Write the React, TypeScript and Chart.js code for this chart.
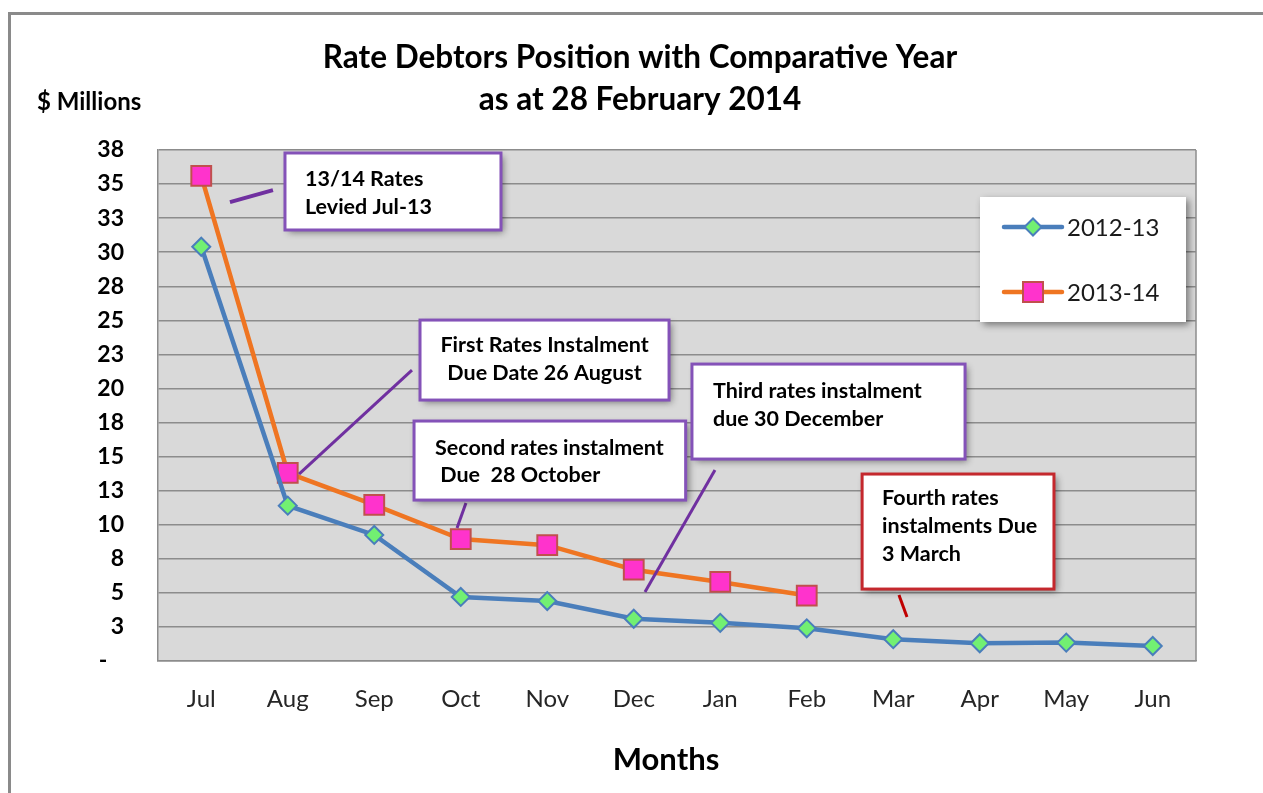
import React, { useEffect, useRef } from "react";
import { Chart, registerables } from "chart.js";

Chart.register(...registerables);

// ---------- data ----------
const months = ["Jul", "Aug", "Sep", "Oct", "Nov", "Dec", "Jan", "Feb", "Mar", "Apr", "May", "Jun"];
const values2012 = [30.4, 11.4, 9.25, 4.7, 4.4, 3.1, 2.8, 2.4, 1.6, 1.3, 1.35, 1.1];
const values2013 = [35.6, 13.8, 11.45, 8.95, 8.5, 6.7, 5.8, 4.8, null, null, null, null];
const seriesNames = ["2012-13", "2013-14"];
const yMin = 0;
const yMax = 37.5;
const yStep = 2.5;
const titleLines = ["Rate Debtors Position with Comparative Year", "as at 28 February 2014"];
const yUnitLabel = "$ Millions";
const xAxisLabel = "Months";

// callout notes (box corners / leader ends in data units: x = month index, y = $M)
const notes = [
  {
    lines: ["13/14 Rates", "Levied Jul-13"],
    box: [0.968, 37.28, 3.465, 31.63],
    leader: [0.332, 33.68, 0.829, 34.56],
  },
  {
    lines: ["First Rates Instalment", "Due Date 26 August"],
    box: [2.529, 25.02, 5.408, 19.15],
    leader: [1.13, 13.72, 2.436, 21.35],
  },
  {
    lines: ["Second rates instalment", " Due  28 October"],
    box: [2.46, 17.61, 5.6, 11.81],
    leader: [3.06, 11.59, 2.957, 9.76],
  },
  {
    lines: ["Third rates instalment", "due 30 December"],
    box: [5.673, 21.79, 8.83, 14.82],
    leader: [5.939, 14.02, 5.13, 5.06],
  },
  {
    lines: ["Fourth rates", "instalments Due", "3 March"],
    box: [7.64, 13.72, 9.858, 5.28],
    leader: [8.066, 4.84, 8.159, 3.23],
  },
];
const noteStyles = [
  { border: "#8452b8", leader: "#7030a0", leaderW: 4, align: "left", dx: 20, dy: 26, lh: 28 },
  { border: "#8452b8", leader: "#7030a0", leaderW: 3, align: "center", dx: 0, dy: 25, lh: 28 },
  { border: "#8452b8", leader: "#7030a0", leaderW: 3, align: "left", dx: 21, dy: 27, lh: 27 },
  { border: "#8452b8", leader: "#7030a0", leaderW: 3, align: "left", dx: 21, dy: 27, lh: 28 },
  { border: "#c4282d", leader: "#c00000", leaderW: 3, align: "left", dx: 20, dy: 24, lh: 28 },
];

const FONT = "Lato, 'Open Sans', 'DejaVu Sans', sans-serif";
const BLUE = "#4a7ebb";
const ORANGE = "#ef7522";
const GREEN = "#72f072";
const PINK = "#ff33cc";
const SQBORDER = "#c0504d";

function drawDiamond(ctx: CanvasRenderingContext2D, x: number, y: number, r: number) {
  ctx.beginPath();
  ctx.moveTo(x - r, y);
  ctx.lineTo(x, y - r);
  ctx.lineTo(x + r, y);
  ctx.lineTo(x, y + r);
  ctx.closePath();
  ctx.fillStyle = GREEN;
  ctx.fill();
  ctx.lineWidth = 2;
  ctx.strokeStyle = BLUE;
  ctx.stroke();
}
function drawSquare(ctx: CanvasRenderingContext2D, x: number, y: number, s: number) {
  ctx.beginPath();
  ctx.rect(x - s, y - s, 2 * s, 2 * s);
  ctx.fillStyle = PINK;
  ctx.fill();
  ctx.lineWidth = 2;
  ctx.strokeStyle = SQBORDER;
  ctx.stroke();
}

const decorPlugin = {
  id: "decor",
  beforeDraw(chart: any) {
    const ctx = chart.ctx as CanvasRenderingContext2D;
    const { left, top, right, bottom } = chart.chartArea;
    ctx.save();
    ctx.fillStyle = "#ffffff";
    ctx.fillRect(0, 0, chart.width, chart.height);
    // outer frame
    ctx.strokeStyle = "#8a8a8a";
    ctx.lineWidth = 3;
    ctx.strokeRect(9.5, 13.5, chart.width + 20, chart.height + 20);
    // plot background
    ctx.fillStyle = "#d9d9d9";
    ctx.fillRect(left, top, right - left, bottom - top);
    ctx.restore();
  },
  afterDraw(chart: any) {
    const ctx = chart.ctx as CanvasRenderingContext2D;
    const xs = chart.scales.x;
    const ys = chart.scales.y;
    const { left, top, right, bottom } = chart.chartArea;
    ctx.save();
    // plot right border
    ctx.strokeStyle = "#8c8c8c";
    ctx.lineWidth = 1.5;
    ctx.beginPath();
    ctx.moveTo(right, top);
    ctx.lineTo(right, bottom);
    ctx.stroke();

    // titles
    ctx.fillStyle = "#000";
    ctx.textAlign = "center";
    ctx.textBaseline = "middle";
    ctx.font = `bold 31.5px ${FONT}`;
    ctx.fillText(titleLines[0], 640, 58);
    ctx.fillText(titleLines[1], 640, 100);
    ctx.textAlign = "left";
    ctx.font = `bold 24px ${FONT}`;
    ctx.fillText(yUnitLabel, 37, 102);
    ctx.textAlign = "center";
    ctx.font = `bold 31px ${FONT}`;
    ctx.fillText(xAxisLabel, 666, 760);

    // callouts
    notes.forEach((n, i) => {
      const st = noteStyles[i];
      const x1 = xs.getPixelForValue(n.box[0]);
      const y1 = ys.getPixelForValue(n.box[1]);
      const x2 = xs.getPixelForValue(n.box[2]);
      const y2 = ys.getPixelForValue(n.box[3]);
      // leader
      ctx.strokeStyle = st.leader;
      ctx.lineWidth = st.leaderW;
      ctx.lineCap = "butt";
      ctx.beginPath();
      ctx.moveTo(xs.getPixelForValue(n.leader[0]), ys.getPixelForValue(n.leader[1]));
      ctx.lineTo(xs.getPixelForValue(n.leader[2]), ys.getPixelForValue(n.leader[3]));
      ctx.stroke();
      // box with shadow
      ctx.save();
      ctx.shadowColor = "rgba(0,0,0,0.45)";
      ctx.shadowBlur = 7;
      ctx.shadowOffsetX = 3;
      ctx.shadowOffsetY = 3;
      ctx.fillStyle = "#ffffff";
      ctx.fillRect(x1, y1, x2 - x1, y2 - y1);
      ctx.restore();
      ctx.strokeStyle = st.border;
      ctx.lineWidth = 3;
      ctx.strokeRect(x1, y1, x2 - x1, y2 - y1);
      // text
      ctx.fillStyle = "#000";
      ctx.font = `bold 21.5px ${FONT}`;
      ctx.textBaseline = "middle";
      ctx.textAlign = st.align as CanvasTextAlign;
      const tx = st.align === "center" ? (x1 + x2) / 2 : x1 + st.dx;
      n.lines.forEach((t, k) => ctx.fillText(t, tx, y1 + st.dy + k * st.lh));
    });

    // legend
    const lx1 = right - 216;
    const ly1 = top + 47;
    const lx2 = right - 10;
    const ly2 = top + 172;
    ctx.save();
    ctx.shadowColor = "rgba(0,0,0,0.45)";
    ctx.shadowBlur = 7;
    ctx.shadowOffsetX = 3;
    ctx.shadowOffsetY = 3;
    ctx.fillStyle = "#ffffff";
    ctx.fillRect(lx1, ly1, lx2 - lx1, ly2 - ly1);
    ctx.restore();
    const rows = [ly1 + 30, ly1 + 95];
    const colors = [BLUE, ORANGE];
    seriesNames.forEach((name, k) => {
      const y = rows[k];
      ctx.strokeStyle = colors[k];
      ctx.lineWidth = 4.5;
      ctx.lineCap = "round";
      ctx.beginPath();
      ctx.moveTo(lx1 + 24, y);
      ctx.lineTo(lx1 + 82, y);
      ctx.stroke();
      if (k === 0) drawDiamond(ctx, lx1 + 53, y, 8.5);
      else drawSquare(ctx, lx1 + 53, y, 10);
      ctx.fillStyle = "#1a1a1a";
      ctx.font = `24px ${FONT}`;
      ctx.textAlign = "left";
      ctx.textBaseline = "middle";
      ctx.fillText(name, lx1 + 87, y + 1);
    });
    ctx.restore();
  },
};

export default function App() {
  const canvasRef = useRef<HTMLCanvasElement | null>(null);

  useEffect(() => {
    if (!canvasRef.current) return;
    const chart = new Chart(canvasRef.current, {
      type: "line",
      data: {
        labels: months,
        datasets: [
          {
            label: seriesNames[0],
            data: values2012,
            borderColor: BLUE,
            borderWidth: 4.5,
            pointStyle: "rectRot",
            pointRadius: 9,
            pointBackgroundColor: GREEN,
            pointBorderColor: BLUE,
            pointBorderWidth: 2,
            tension: 0,
          },
          {
            label: seriesNames[1],
            data: values2013,
            borderColor: ORANGE,
            borderWidth: 4.5,
            pointStyle: "rect",
            pointRadius: 14,
            pointBackgroundColor: PINK,
            pointBorderColor: SQBORDER,
            pointBorderWidth: 2,
            tension: 0,
          },
        ],
      },
      options: {
        responsive: false,
        animation: false,
        devicePixelRatio: 1,
        layout: { padding: { left: 0, top: 150, right: 67, bottom: 0 } },
        plugins: {
          legend: { display: false },
          title: { display: false },
          tooltip: { enabled: false },
        },
        scales: {
          x: {
            offset: true,
            grid: { display: false, drawTicks: false, offset: true },
            border: { display: true, color: "#8c8c8c", width: 1.5 },
            ticks: {
              padding: 24,
              color: "#262626",
              font: { family: FONT, size: 24 },
            },
            afterFit: (s: any) => {
              s.height = 132;
            },
          },
          y: {
            min: yMin,
            max: yMax,
            grid: { color: "#8c8c8c", lineWidth: 1.5, drawTicks: false },
            border: { display: true, color: "#8c8c8c", width: 1.5 },
            ticks: {
              stepSize: yStep,
              padding: 34,
              color: "#000",
              font: { family: FONT, size: 23, weight: "bold" },
              callback: (v: any) => (Number(v) === 0 ? "-   " : String(Math.round(Number(v)))),
            },
            afterFit: (s: any) => {
              s.width = 158;
            },
          },
        },
      },
      plugins: [decorPlugin],
    } as any);
    return () => chart.destroy();
  }, []);

  return (
    <div style={{ position: "absolute", left: 0, top: 0, width: 1263, height: 793 }}>
      <canvas ref={canvasRef} width={1263} height={793} style={{ display: "block" }} />
    </div>
  );
}
